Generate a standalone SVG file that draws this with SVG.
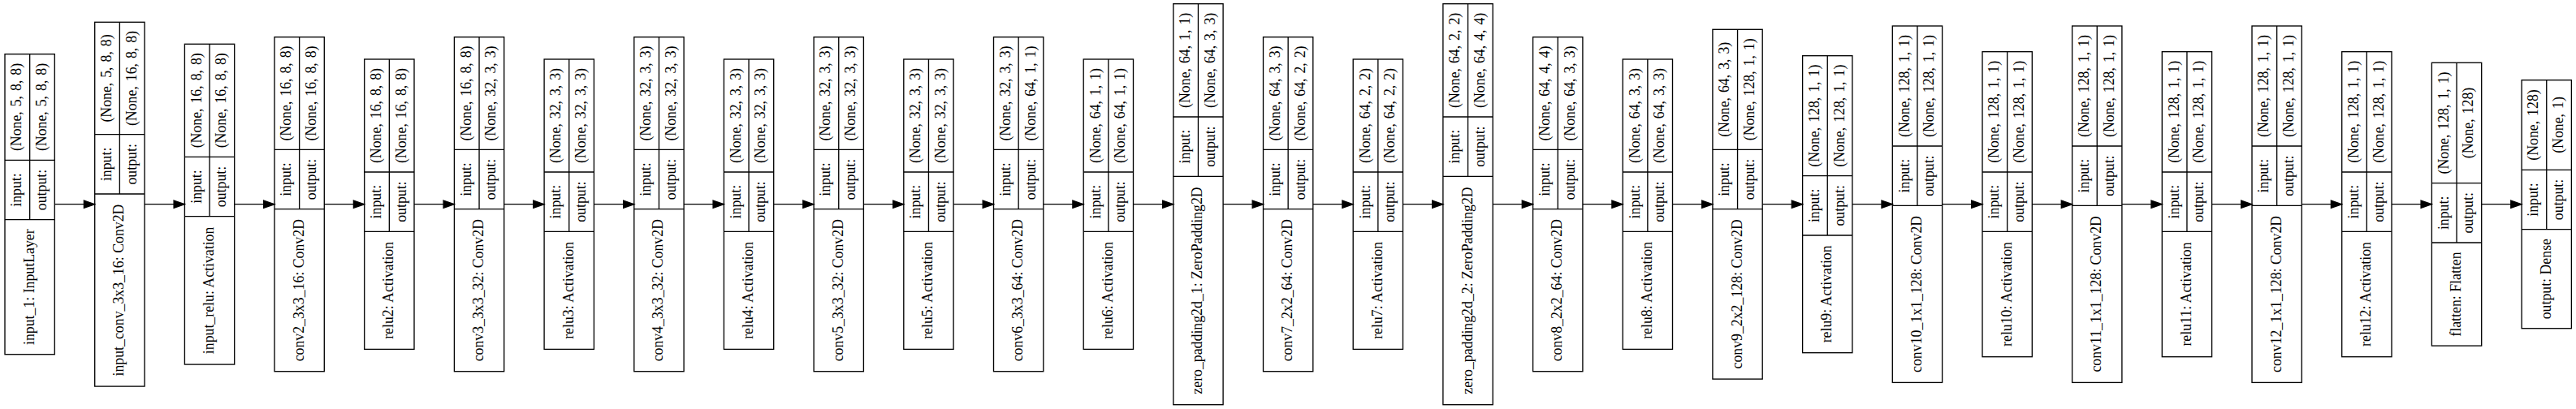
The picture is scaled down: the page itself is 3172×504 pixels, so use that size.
<svg xmlns="http://www.w3.org/2000/svg" width="3172" height="504" viewBox="0 0 3172 504">
<style>
.b{fill:none;stroke:#000;stroke-width:1.33}
.e{fill:none;stroke:#000;stroke-width:1.33;marker-end:url(#ah)}
text{font-family:"Liberation Serif","Times New Roman",serif;font-size:17.8px;text-anchor:middle;fill:#000}
.v{word-spacing:1.5px}
</style>
<defs>
<marker id="ah" markerUnits="userSpaceOnUse" markerWidth="16" markerHeight="12" refX="13.3" refY="5" orient="auto" viewBox="-1 0 16 10">
<path d="M0,0.33L13.3,5L0,9.67z" fill="#000" stroke="#000" stroke-width="1.33"/>
</marker>
</defs>
<rect width="3172" height="504" fill="#fff"/>
<g id="edges">
<path class="e" d="M67.3,251.7H116.7"/>
<path class="e" d="M178,251.7H227.4"/>
<path class="e" d="M288.7,251.7H338"/>
<path class="e" d="M399.3,251.7H448.7"/>
<path class="e" d="M510,251.7H559.4"/>
<path class="e" d="M620.7,251.7H670.1"/>
<path class="e" d="M731.4,251.7H780.8"/>
<path class="e" d="M842.1,251.7H891.4"/>
<path class="e" d="M952.7,251.7H1002.1"/>
<path class="e" d="M1063.4,251.7H1112.8"/>
<path class="e" d="M1174.1,251.7H1223.5"/>
<path class="e" d="M1284.8,251.7H1334.2"/>
<path class="e" d="M1395.5,251.7H1444.8"/>
<path class="e" d="M1506.1,251.7H1555.5"/>
<path class="e" d="M1616.8,251.7H1666.2"/>
<path class="e" d="M1727.5,251.7H1776.9"/>
<path class="e" d="M1838.2,251.7H1887.6"/>
<path class="e" d="M1948.9,251.7H1998.2"/>
<path class="e" d="M2059.5,251.7H2108.9"/>
<path class="e" d="M2170.2,251.7H2219.6"/>
<path class="e" d="M2280.9,251.7H2330.3"/>
<path class="e" d="M2391.6,251.7H2441"/>
<path class="e" d="M2502.3,251.7H2551.6"/>
<path class="e" d="M2612.9,251.7H2662.3"/>
<path class="e" d="M2723.6,251.7H2773"/>
<path class="e" d="M2834.3,251.7H2883.7"/>
<path class="e" d="M2945,251.7H2994.4"/>
<path class="e" d="M3055.7,251.7H3105.1"/>
</g>

<g id="n1" transform="translate(6,0)">
<rect class="b" x="0" y="66.7" width="61.3" height="370"/>
<path class="b" d="M0,197.3H61.3M0,270.7H61.3M30.65,66.7V270.7"/>
<text transform="translate(30.65,353.7) rotate(-90)" y="5">input_1: InputLayer</text>
<text transform="translate(15.3,234) rotate(-90)" y="5">input:</text>
<text transform="translate(46,234) rotate(-90)" y="5">output:</text>
<text class="v" transform="translate(15.3,132) rotate(-90)" y="5">(None, 5, 8, 8)</text>
<text class="v" transform="translate(46,132) rotate(-90)" y="5">(None, 5, 8, 8)</text>
</g>

<g id="n2" transform="translate(116.7,0)">
<rect class="b" x="0" y="27.3" width="61.3" height="448.8"/>
<path class="b" d="M0,165.7H61.3M0,239H61.3M30.65,27.3V239"/>
<text transform="translate(30.65,357.55) rotate(-90)" y="5">input_conv_3x3_16: Conv2D</text>
<text transform="translate(15.3,202.35) rotate(-90)" y="5">input:</text>
<text transform="translate(46,202.35) rotate(-90)" y="5">output:</text>
<text class="v" transform="translate(15.3,96.5) rotate(-90)" y="5">(None, 5, 8, 8)</text>
<text class="v" transform="translate(46,96.5) rotate(-90)" y="5">(None, 16, 8, 8)</text>
</g>

<g id="n3" transform="translate(227.4,0)">
<rect class="b" x="0" y="54.3" width="61.3" height="394.8"/>
<path class="b" d="M0,193.3H61.3M0,266.7H61.3M30.65,54.3V266.7"/>
<text transform="translate(30.65,357.9) rotate(-90)" y="5">input_relu: Activation</text>
<text transform="translate(15.3,230) rotate(-90)" y="5">input:</text>
<text transform="translate(46,230) rotate(-90)" y="5">output:</text>
<text class="v" transform="translate(15.3,123.8) rotate(-90)" y="5">(None, 16, 8, 8)</text>
<text class="v" transform="translate(46,123.8) rotate(-90)" y="5">(None, 16, 8, 8)</text>
</g>

<g id="n4" transform="translate(338,0)">
<rect class="b" x="0" y="45.7" width="61.3" height="412"/>
<path class="b" d="M0,184.3H61.3M0,257.7H61.3M30.65,45.7V257.7"/>
<text transform="translate(30.65,357.7) rotate(-90)" y="5">conv2_3x3_16: Conv2D</text>
<text transform="translate(15.3,221) rotate(-90)" y="5">input:</text>
<text transform="translate(46,221) rotate(-90)" y="5">output:</text>
<text class="v" transform="translate(15.3,115) rotate(-90)" y="5">(None, 16, 8, 8)</text>
<text class="v" transform="translate(46,115) rotate(-90)" y="5">(None, 16, 8, 8)</text>
</g>

<g id="n5" transform="translate(448.7,0)">
<rect class="b" x="0" y="73" width="61.3" height="357.4"/>
<path class="b" d="M0,212H61.3M0,285.3H61.3M30.65,73V285.3"/>
<text transform="translate(30.65,357.85) rotate(-90)" y="5">relu2: Activation</text>
<text transform="translate(15.3,248.65) rotate(-90)" y="5">input:</text>
<text transform="translate(46,248.65) rotate(-90)" y="5">output:</text>
<text class="v" transform="translate(15.3,142.5) rotate(-90)" y="5">(None, 16, 8, 8)</text>
<text class="v" transform="translate(46,142.5) rotate(-90)" y="5">(None, 16, 8, 8)</text>
</g>

<g id="n6" transform="translate(559.4,0)">
<rect class="b" x="0" y="45.7" width="61.3" height="412"/>
<path class="b" d="M0,184.3H61.3M0,257.7H61.3M30.65,45.7V257.7"/>
<text transform="translate(30.65,357.7) rotate(-90)" y="5">conv3_3x3_32: Conv2D</text>
<text transform="translate(15.3,221) rotate(-90)" y="5">input:</text>
<text transform="translate(46,221) rotate(-90)" y="5">output:</text>
<text class="v" transform="translate(15.3,115) rotate(-90)" y="5">(None, 16, 8, 8)</text>
<text class="v" transform="translate(46,115) rotate(-90)" y="5">(None, 32, 3, 3)</text>
</g>

<g id="n7" transform="translate(670.1,0)">
<rect class="b" x="0" y="73" width="61.3" height="357.4"/>
<path class="b" d="M0,212H61.3M0,285.3H61.3M30.65,73V285.3"/>
<text transform="translate(30.65,357.85) rotate(-90)" y="5">relu3: Activation</text>
<text transform="translate(15.3,248.65) rotate(-90)" y="5">input:</text>
<text transform="translate(46,248.65) rotate(-90)" y="5">output:</text>
<text class="v" transform="translate(15.3,142.5) rotate(-90)" y="5">(None, 32, 3, 3)</text>
<text class="v" transform="translate(46,142.5) rotate(-90)" y="5">(None, 32, 3, 3)</text>
</g>

<g id="n8" transform="translate(780.8,0)">
<rect class="b" x="0" y="45.7" width="61.3" height="412"/>
<path class="b" d="M0,184.3H61.3M0,257.7H61.3M30.65,45.7V257.7"/>
<text transform="translate(30.65,357.7) rotate(-90)" y="5">conv4_3x3_32: Conv2D</text>
<text transform="translate(15.3,221) rotate(-90)" y="5">input:</text>
<text transform="translate(46,221) rotate(-90)" y="5">output:</text>
<text class="v" transform="translate(15.3,115) rotate(-90)" y="5">(None, 32, 3, 3)</text>
<text class="v" transform="translate(46,115) rotate(-90)" y="5">(None, 32, 3, 3)</text>
</g>

<g id="n9" transform="translate(891.4,0)">
<rect class="b" x="0" y="73" width="61.3" height="357.4"/>
<path class="b" d="M0,212H61.3M0,285.3H61.3M30.65,73V285.3"/>
<text transform="translate(30.65,357.85) rotate(-90)" y="5">relu4: Activation</text>
<text transform="translate(15.3,248.65) rotate(-90)" y="5">input:</text>
<text transform="translate(46,248.65) rotate(-90)" y="5">output:</text>
<text class="v" transform="translate(15.3,142.5) rotate(-90)" y="5">(None, 32, 3, 3)</text>
<text class="v" transform="translate(46,142.5) rotate(-90)" y="5">(None, 32, 3, 3)</text>
</g>

<g id="n10" transform="translate(1002.1,0)">
<rect class="b" x="0" y="45.7" width="61.3" height="412"/>
<path class="b" d="M0,184.3H61.3M0,257.7H61.3M30.65,45.7V257.7"/>
<text transform="translate(30.65,357.7) rotate(-90)" y="5">conv5_3x3_32: Conv2D</text>
<text transform="translate(15.3,221) rotate(-90)" y="5">input:</text>
<text transform="translate(46,221) rotate(-90)" y="5">output:</text>
<text class="v" transform="translate(15.3,115) rotate(-90)" y="5">(None, 32, 3, 3)</text>
<text class="v" transform="translate(46,115) rotate(-90)" y="5">(None, 32, 3, 3)</text>
</g>

<g id="n11" transform="translate(1112.8,0)">
<rect class="b" x="0" y="73" width="61.3" height="357.4"/>
<path class="b" d="M0,212H61.3M0,285.3H61.3M30.65,73V285.3"/>
<text transform="translate(30.65,357.85) rotate(-90)" y="5">relu5: Activation</text>
<text transform="translate(15.3,248.65) rotate(-90)" y="5">input:</text>
<text transform="translate(46,248.65) rotate(-90)" y="5">output:</text>
<text class="v" transform="translate(15.3,142.5) rotate(-90)" y="5">(None, 32, 3, 3)</text>
<text class="v" transform="translate(46,142.5) rotate(-90)" y="5">(None, 32, 3, 3)</text>
</g>

<g id="n12" transform="translate(1223.5,0)">
<rect class="b" x="0" y="45.7" width="61.3" height="412"/>
<path class="b" d="M0,184.3H61.3M0,257.7H61.3M30.65,45.7V257.7"/>
<text transform="translate(30.65,357.7) rotate(-90)" y="5">conv6_3x3_64: Conv2D</text>
<text transform="translate(15.3,221) rotate(-90)" y="5">input:</text>
<text transform="translate(46,221) rotate(-90)" y="5">output:</text>
<text class="v" transform="translate(15.3,115) rotate(-90)" y="5">(None, 32, 3, 3)</text>
<text class="v" transform="translate(46,115) rotate(-90)" y="5">(None, 64, 1, 1)</text>
</g>

<g id="n13" transform="translate(1334.2,0)">
<rect class="b" x="0" y="73" width="61.3" height="357.4"/>
<path class="b" d="M0,212H61.3M0,285.3H61.3M30.65,73V285.3"/>
<text transform="translate(30.65,357.85) rotate(-90)" y="5">relu6: Activation</text>
<text transform="translate(15.3,248.65) rotate(-90)" y="5">input:</text>
<text transform="translate(46,248.65) rotate(-90)" y="5">output:</text>
<text class="v" transform="translate(15.3,142.5) rotate(-90)" y="5">(None, 64, 1, 1)</text>
<text class="v" transform="translate(46,142.5) rotate(-90)" y="5">(None, 64, 1, 1)</text>
</g>

<g id="n14" transform="translate(1444.8,0)">
<rect class="b" x="0" y="4.7" width="61.3" height="494"/>
<path class="b" d="M0,144H61.3M0,217.3H61.3M30.65,4.7V217.3"/>
<text transform="translate(30.65,358) rotate(-90)" y="5">zero_padding2d_1: ZeroPadding2D</text>
<text transform="translate(15.3,180.65) rotate(-90)" y="5">input:</text>
<text transform="translate(46,180.65) rotate(-90)" y="5">output:</text>
<text class="v" transform="translate(15.3,74.35) rotate(-90)" y="5">(None, 64, 1, 1)</text>
<text class="v" transform="translate(46,74.35) rotate(-90)" y="5">(None, 64, 3, 3)</text>
</g>

<g id="n15" transform="translate(1555.5,0)">
<rect class="b" x="0" y="45.7" width="61.3" height="412"/>
<path class="b" d="M0,184.3H61.3M0,257.7H61.3M30.65,45.7V257.7"/>
<text transform="translate(30.65,357.7) rotate(-90)" y="5">conv7_2x2_64: Conv2D</text>
<text transform="translate(15.3,221) rotate(-90)" y="5">input:</text>
<text transform="translate(46,221) rotate(-90)" y="5">output:</text>
<text class="v" transform="translate(15.3,115) rotate(-90)" y="5">(None, 64, 3, 3)</text>
<text class="v" transform="translate(46,115) rotate(-90)" y="5">(None, 64, 2, 2)</text>
</g>

<g id="n16" transform="translate(1666.2,0)">
<rect class="b" x="0" y="73" width="61.3" height="357.4"/>
<path class="b" d="M0,212H61.3M0,285.3H61.3M30.65,73V285.3"/>
<text transform="translate(30.65,357.85) rotate(-90)" y="5">relu7: Activation</text>
<text transform="translate(15.3,248.65) rotate(-90)" y="5">input:</text>
<text transform="translate(46,248.65) rotate(-90)" y="5">output:</text>
<text class="v" transform="translate(15.3,142.5) rotate(-90)" y="5">(None, 64, 2, 2)</text>
<text class="v" transform="translate(46,142.5) rotate(-90)" y="5">(None, 64, 2, 2)</text>
</g>

<g id="n17" transform="translate(1776.9,0)">
<rect class="b" x="0" y="4.7" width="61.3" height="494"/>
<path class="b" d="M0,144H61.3M0,217.3H61.3M30.65,4.7V217.3"/>
<text transform="translate(30.65,358) rotate(-90)" y="5">zero_padding2d_2: ZeroPadding2D</text>
<text transform="translate(15.3,180.65) rotate(-90)" y="5">input:</text>
<text transform="translate(46,180.65) rotate(-90)" y="5">output:</text>
<text class="v" transform="translate(15.3,74.35) rotate(-90)" y="5">(None, 64, 2, 2)</text>
<text class="v" transform="translate(46,74.35) rotate(-90)" y="5">(None, 64, 4, 4)</text>
</g>

<g id="n18" transform="translate(1887.6,0)">
<rect class="b" x="0" y="45.7" width="61.3" height="412"/>
<path class="b" d="M0,184.3H61.3M0,257.7H61.3M30.65,45.7V257.7"/>
<text transform="translate(30.65,357.7) rotate(-90)" y="5">conv8_2x2_64: Conv2D</text>
<text transform="translate(15.3,221) rotate(-90)" y="5">input:</text>
<text transform="translate(46,221) rotate(-90)" y="5">output:</text>
<text class="v" transform="translate(15.3,115) rotate(-90)" y="5">(None, 64, 4, 4)</text>
<text class="v" transform="translate(46,115) rotate(-90)" y="5">(None, 64, 3, 3)</text>
</g>

<g id="n19" transform="translate(1998.2,0)">
<rect class="b" x="0" y="73" width="61.3" height="357.4"/>
<path class="b" d="M0,212H61.3M0,285.3H61.3M30.65,73V285.3"/>
<text transform="translate(30.65,357.85) rotate(-90)" y="5">relu8: Activation</text>
<text transform="translate(15.3,248.65) rotate(-90)" y="5">input:</text>
<text transform="translate(46,248.65) rotate(-90)" y="5">output:</text>
<text class="v" transform="translate(15.3,142.5) rotate(-90)" y="5">(None, 64, 3, 3)</text>
<text class="v" transform="translate(46,142.5) rotate(-90)" y="5">(None, 64, 3, 3)</text>
</g>

<g id="n20" transform="translate(2108.9,0)">
<rect class="b" x="0" y="36.3" width="61.3" height="430.8"/>
<path class="b" d="M0,184.3H61.3M0,257.7H61.3M30.65,36.3V257.7"/>
<text transform="translate(30.65,362.4) rotate(-90)" y="5">conv9_2x2_128: Conv2D</text>
<text transform="translate(15.3,221) rotate(-90)" y="5">input:</text>
<text transform="translate(46,221) rotate(-90)" y="5">output:</text>
<text class="v" transform="translate(15.3,110.3) rotate(-90)" y="5">(None, 64, 3, 3)</text>
<text class="v" transform="translate(46,110.3) rotate(-90)" y="5">(None, 128, 1, 1)</text>
</g>

<g id="n21" transform="translate(2219.6,0)">
<rect class="b" x="0" y="68.7" width="61.3" height="366"/>
<path class="b" d="M0,216.7H61.3M0,290H61.3M30.65,68.7V290"/>
<text transform="translate(30.65,362.35) rotate(-90)" y="5">relu9: Activation</text>
<text transform="translate(15.3,253.35) rotate(-90)" y="5">input:</text>
<text transform="translate(46,253.35) rotate(-90)" y="5">output:</text>
<text class="v" transform="translate(15.3,142.7) rotate(-90)" y="5">(None, 128, 1, 1)</text>
<text class="v" transform="translate(46,142.7) rotate(-90)" y="5">(None, 128, 1, 1)</text>
</g>

<g id="n22" transform="translate(2330.3,0)">
<rect class="b" x="0" y="32" width="61.3" height="439.4"/>
<path class="b" d="M0,180H61.3M0,253.3H61.3M30.65,32V253.3"/>
<text transform="translate(30.65,362.35) rotate(-90)" y="5">conv10_1x1_128: Conv2D</text>
<text transform="translate(15.3,216.65) rotate(-90)" y="5">input:</text>
<text transform="translate(46,216.65) rotate(-90)" y="5">output:</text>
<text class="v" transform="translate(15.3,106) rotate(-90)" y="5">(None, 128, 1, 1)</text>
<text class="v" transform="translate(46,106) rotate(-90)" y="5">(None, 128, 1, 1)</text>
</g>

<g id="n23" transform="translate(2441,0)">
<rect class="b" x="0" y="63.7" width="61.3" height="376"/>
<path class="b" d="M0,212H61.3M0,285.3H61.3M30.65,63.7V285.3"/>
<text transform="translate(30.65,362.5) rotate(-90)" y="5">relu10: Activation</text>
<text transform="translate(15.3,248.65) rotate(-90)" y="5">input:</text>
<text transform="translate(46,248.65) rotate(-90)" y="5">output:</text>
<text class="v" transform="translate(15.3,137.85) rotate(-90)" y="5">(None, 128, 1, 1)</text>
<text class="v" transform="translate(46,137.85) rotate(-90)" y="5">(None, 128, 1, 1)</text>
</g>

<g id="n24" transform="translate(2551.6,0)">
<rect class="b" x="0" y="32" width="61.3" height="439.4"/>
<path class="b" d="M0,180H61.3M0,253.3H61.3M30.65,32V253.3"/>
<text transform="translate(30.65,362.35) rotate(-90)" y="5">conv11_1x1_128: Conv2D</text>
<text transform="translate(15.3,216.65) rotate(-90)" y="5">input:</text>
<text transform="translate(46,216.65) rotate(-90)" y="5">output:</text>
<text class="v" transform="translate(15.3,106) rotate(-90)" y="5">(None, 128, 1, 1)</text>
<text class="v" transform="translate(46,106) rotate(-90)" y="5">(None, 128, 1, 1)</text>
</g>

<g id="n25" transform="translate(2662.3,0)">
<rect class="b" x="0" y="63.7" width="61.3" height="376"/>
<path class="b" d="M0,212H61.3M0,285.3H61.3M30.65,63.7V285.3"/>
<text transform="translate(30.65,362.5) rotate(-90)" y="5">relu11: Activation</text>
<text transform="translate(15.3,248.65) rotate(-90)" y="5">input:</text>
<text transform="translate(46,248.65) rotate(-90)" y="5">output:</text>
<text class="v" transform="translate(15.3,137.85) rotate(-90)" y="5">(None, 128, 1, 1)</text>
<text class="v" transform="translate(46,137.85) rotate(-90)" y="5">(None, 128, 1, 1)</text>
</g>

<g id="n26" transform="translate(2773,0)">
<rect class="b" x="0" y="32" width="61.3" height="439.4"/>
<path class="b" d="M0,180H61.3M0,253.3H61.3M30.65,32V253.3"/>
<text transform="translate(30.65,362.35) rotate(-90)" y="5">conv12_1x1_128: Conv2D</text>
<text transform="translate(15.3,216.65) rotate(-90)" y="5">input:</text>
<text transform="translate(46,216.65) rotate(-90)" y="5">output:</text>
<text class="v" transform="translate(15.3,106) rotate(-90)" y="5">(None, 128, 1, 1)</text>
<text class="v" transform="translate(46,106) rotate(-90)" y="5">(None, 128, 1, 1)</text>
</g>

<g id="n27" transform="translate(2883.7,0)">
<rect class="b" x="0" y="63.7" width="61.3" height="376"/>
<path class="b" d="M0,212H61.3M0,285.3H61.3M30.65,63.7V285.3"/>
<text transform="translate(30.65,362.5) rotate(-90)" y="5">relu12: Activation</text>
<text transform="translate(15.3,248.65) rotate(-90)" y="5">input:</text>
<text transform="translate(46,248.65) rotate(-90)" y="5">output:</text>
<text class="v" transform="translate(15.3,137.85) rotate(-90)" y="5">(None, 128, 1, 1)</text>
<text class="v" transform="translate(46,137.85) rotate(-90)" y="5">(None, 128, 1, 1)</text>
</g>

<g id="n28" transform="translate(2994.4,0)">
<rect class="b" x="0" y="77.3" width="61.3" height="348.8"/>
<path class="b" d="M0,225.7H61.3M0,299H61.3M30.65,77.3V299"/>
<text transform="translate(30.65,362.55) rotate(-90)" y="5">flatten: Flatten</text>
<text transform="translate(15.3,262.35) rotate(-90)" y="5">input:</text>
<text transform="translate(46,262.35) rotate(-90)" y="5">output:</text>
<text class="v" transform="translate(15.3,151.5) rotate(-90)" y="5">(None, 128, 1, 1)</text>
<text class="v" transform="translate(46,151.5) rotate(-90)" y="5">(None, 128)</text>
</g>

<g id="n29" transform="translate(3105.1,0)">
<rect class="b" x="0" y="98.7" width="61.3" height="306"/>
<path class="b" d="M0,209.3H61.3M0,282.7H61.3M30.65,98.7V282.7"/>
<text transform="translate(30.65,343.7) rotate(-90)" y="5">output: Dense</text>
<text transform="translate(15.3,246) rotate(-90)" y="5">input:</text>
<text transform="translate(46,246) rotate(-90)" y="5">output:</text>
<text class="v" transform="translate(15.3,154) rotate(-90)" y="5">(None, 128)</text>
<text class="v" transform="translate(46,154) rotate(-90)" y="5">(None, 1)</text>
</g>
</svg>
